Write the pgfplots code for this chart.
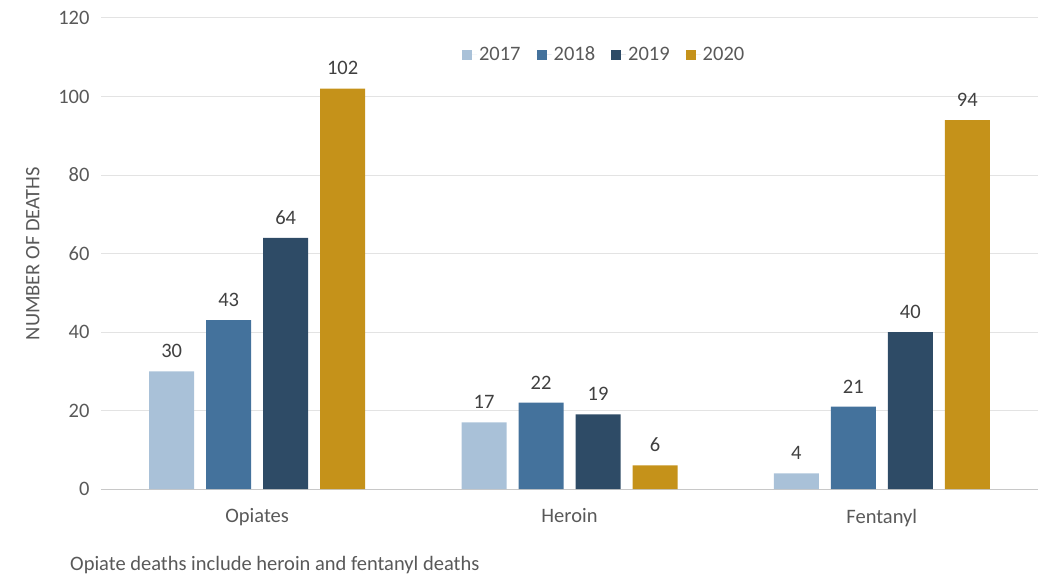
\documentclass[border=0pt]{standalone}
\usepackage{pgfplots}
\pgfplotsset{compat=1.18}
\usepackage{fontspec}
\setmainfont{Carlito}

\definecolor{c2017}{HTML}{A9C1D8}
\definecolor{c2018}{HTML}{44729C}
\definecolor{c2019}{HTML}{2E4B66}
\definecolor{c2020}{HTML}{C5921A}
\definecolor{txtgrey}{HTML}{595959}
\definecolor{lblgrey}{HTML}{404040}
\definecolor{gridgrey}{HTML}{E3E3E3}
\definecolor{axisgrey}{HTML}{C8C8C8}

\begin{document}
\begin{tikzpicture}
\path[use as bounding box] (0,0) rectangle (1045pt,574pt);
\begin{axis}[
    at={(101pt,85pt)}, anchor=south west,
    scale only axis,
    width=937pt, height=471pt,
    ybar=12pt,
    bar width=45pt,
    xmin=-0.5, xmax=2.5,
    ymin=0, ymax=120,
    xtick=data,
    xticklabels={Opiates,Heroin,Fentanyl},
    ytick={0,20,...,120},
    /pgf/number format/assume math mode=true,
    axis x line*=bottom,
    axis y line*=left,
    x axis line style={draw=axisgrey, line width=1pt},
    y axis line style={draw=none},
    tick style={draw=none},
    ymajorgrids,
    grid style={draw=gridgrey, line width=1pt},
    tick label style={font=\fontsize{20.5}{24}\selectfont, text=txtgrey},
    yticklabel style={xshift=-8pt},
    xticklabel style={yshift=-12pt},
    ylabel={NUMBER OF DEATHS},
    ylabel style={font=\fontsize{20.5}{24}\selectfont, text=txtgrey, yshift=12pt},
    nodes near coords,
    every node near coord/.append style={font=\fontsize{20.5}{24}\selectfont, text=lblgrey, yshift=10pt},
    legend columns=4,
    legend style={draw=none, fill=none, at={(0.537,0.922)}, anchor=center,
        font=\fontsize{20.5}{24}\selectfont, text=txtgrey,
        /tikz/every even column/.append style={column sep=14pt}},
    legend image code/.code={\fill[#1] (0pt,-5pt) rectangle (10pt,5pt); \path (0pt,0pt) -- (15pt,0pt);},
]
\addplot[fill=c2017, draw=none] coordinates {(0,30) (1,17) (2,4)};
\addplot[fill=c2018, draw=none] coordinates {(0,43) (1,22) (2,21)};
\addplot[fill=c2019, draw=none] coordinates {(0,64) (1,19) (2,40)};
\addplot[fill=c2020, draw=none] coordinates {(0,102) (1,6) (2,94)};
\legend{2017,2018,2019,2020}
\end{axis}
\node[anchor=west, font=\fontsize{20.5}{24}\selectfont, text=txtgrey, inner sep=0pt] at (70pt,9pt) {Opiate deaths include heroin and fentanyl deaths};
\end{tikzpicture}
\end{document}
